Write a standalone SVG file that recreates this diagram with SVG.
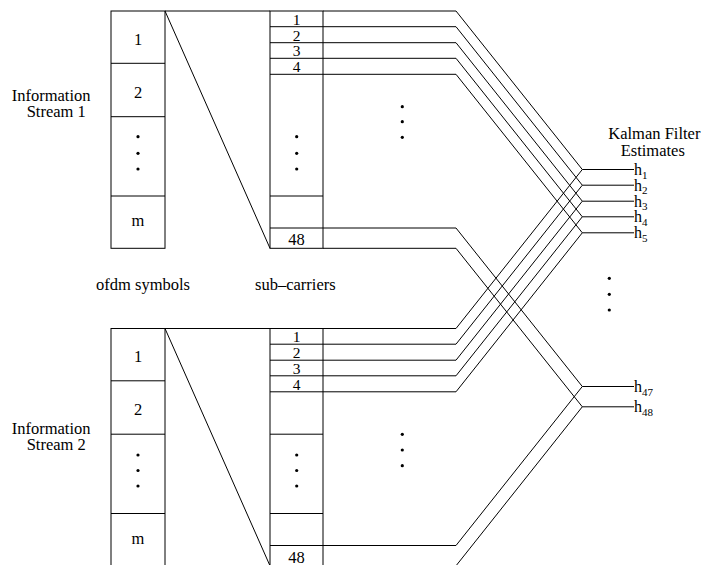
<svg xmlns="http://www.w3.org/2000/svg" width="703" height="565" viewBox="0 0 703 565" font-family="'Liberation Serif', 'Times New Roman', serif">
<style>
  .box{fill:none;stroke:#000;stroke-width:1}
  .ln{fill:none;stroke:#000;stroke-width:1}
  text{font-family:"Liberation Serif","Times New Roman",serif;font-size:16.5px;fill:#000}
  .c{text-anchor:middle}
  .sc{font-size:15.5px}
  .h{font-size:16px}
  .sub{font-size:11px}
  .dot{fill:#000}
</style>
<rect width="703" height="565" fill="#fff"/>

<g id="stream1-label">
  <text x="11.7" y="101">Information</text>
  <text x="26.7" y="116.7">Stream 1</text>
</g>
<g id="stream2-label">
  <text x="11.7" y="434">Information</text>
  <text x="26.7" y="450">Stream 2</text>
</g>
<g id="axis-labels">
  <text x="96" y="290">ofdm symbols</text>
  <text x="255" y="290">sub–carriers</text>
</g>
<g id="kalman-label">
  <text x="608.3" y="139.3">Kalman Filter</text>
  <text x="620.7" y="156">Estimates</text>
</g>

<g id="stream1-symbols">
  <rect class="box" x="111" y="11" width="54" height="237.3"/>
  <path class="ln" d="M111,63.3H165M111,116.7H165M111,196H165"/>
  <text class="c" x="138" y="44.5">1</text>
  <text class="c" x="138" y="97.5">2</text>
  <circle class="dot" cx="138" cy="136.7" r="1.6"/>
  <circle class="dot" cx="138" cy="153.3" r="1.6"/>
  <circle class="dot" cx="138" cy="169" r="1.6"/>
  <text class="c" x="138" y="226">m</text>
</g>

<g id="stream1-subcarriers">
  <rect class="box" x="270" y="11" width="53" height="237.3"/>
  <path class="ln" d="M270,26.7H323M270,42.7H323M270,58.3H323M270,74.3H323M270,196H323M270,228H323"/>
  <text class="c sc" x="296.5" y="24.7">1</text>
  <text class="c sc" x="296.5" y="40.7">2</text>
  <text class="c sc" x="296.5" y="56.3">3</text>
  <text class="c sc" x="296.5" y="72.3">4</text>
  <circle class="dot" cx="296.7" cy="136.7" r="1.6"/>
  <circle class="dot" cx="296.7" cy="153.3" r="1.6"/>
  <circle class="dot" cx="296.7" cy="169" r="1.6"/>
  <text class="c" x="296.5" y="245">48</text>
</g>

<g id="stream2-symbols">
  <rect class="box" x="111" y="328.5" width="54" height="237.3"/>
  <path class="ln" d="M111,380.8H165M111,434.2H165M111,513.5H165"/>
  <text class="c" x="138" y="362">1</text>
  <text class="c" x="138" y="414.5">2</text>
  <circle class="dot" cx="138" cy="455" r="1.6"/>
  <circle class="dot" cx="138" cy="470.5" r="1.6"/>
  <circle class="dot" cx="138" cy="486" r="1.6"/>
  <text class="c" x="138" y="544">m</text>
</g>

<g id="stream2-subcarriers">
  <rect class="box" x="270" y="328.5" width="53" height="237.3"/>
  <path class="ln" d="M270,344.2H323M270,360.2H323M270,375.8H323M270,391.8H323M270,434.2H323M270,513.5H323M270,545.5H323"/>
  <text class="c sc" x="296.5" y="342.2">1</text>
  <text class="c sc" x="296.5" y="358.2">2</text>
  <text class="c sc" x="296.5" y="373.8">3</text>
  <text class="c sc" x="296.5" y="389.8">4</text>
  <circle class="dot" cx="296.7" cy="455" r="1.6"/>
  <circle class="dot" cx="296.7" cy="470.5" r="1.6"/>
  <circle class="dot" cx="296.7" cy="486" r="1.6"/>
  <text class="c" x="296.5" y="562.5">48</text>
</g>

<g id="middle-dots">
  <circle class="dot" cx="402.3" cy="106.7" r="1.6"/>
  <circle class="dot" cx="402.3" cy="121.7" r="1.6"/>
  <circle class="dot" cx="402.3" cy="137.3" r="1.6"/>
  <circle class="dot" cx="402.3" cy="434.3" r="1.6"/>
  <circle class="dot" cx="402.3" cy="450" r="1.6"/>
  <circle class="dot" cx="402.3" cy="465.7" r="1.6"/>
</g>

<g id="estimates">
  <text class="h" x="634" y="175">h<tspan class="sub" dy="3.5">1</tspan></text>
  <text class="h" x="634" y="190.7">h<tspan class="sub" dy="3.5">2</tspan></text>
  <text class="h" x="634" y="206.7">h<tspan class="sub" dy="3.5">3</tspan></text>
  <text class="h" x="634" y="222.3">h<tspan class="sub" dy="3.5">4</tspan></text>
  <text class="h" x="634" y="238.3">h<tspan class="sub" dy="3.5">5</tspan></text>
  <circle class="dot" cx="609.3" cy="278.3" r="1.6"/>
  <circle class="dot" cx="609.3" cy="294.3" r="1.6"/>
  <circle class="dot" cx="609.3" cy="310" r="1.6"/>
  <text class="h" x="634" y="392">h<tspan class="sub" dy="3.5">47</tspan></text>
  <text class="h" x="634" y="412.3">h<tspan class="sub" dy="3.5">48</tspan></text>
</g>

<g id="connectors">
  <path class="ln" d="M165,11H270M165,11L270,248.3"/>
  <path class="ln" d="M165,328.5H270M165,328.5L270,565.8"/>
  <path class="ln" d="M323,11H456L582.3,169.5"/>
  <path class="ln" d="M323,26.7H456L582.3,185.2"/>
  <path class="ln" d="M323,42.7H456L582.3,201.2"/>
  <path class="ln" d="M323,58.3H456L582.3,216.8"/>
  <path class="ln" d="M323,74.3H456L582.3,232.8"/>
  <path class="ln" d="M323,228H456L582.3,386.5"/>
  <path class="ln" d="M323,248.3H456L582.3,406.8"/>
  <path class="ln" d="M323,328.5H456L582.3,169.5"/>
  <path class="ln" d="M323,344.2H456L582.3,185.2"/>
  <path class="ln" d="M323,360.2H456L582.3,201.2"/>
  <path class="ln" d="M323,375.8H456L582.3,216.8"/>
  <path class="ln" d="M323,391.8H456L582.3,232.8"/>
  <path class="ln" d="M323,545.5H456L582.3,386.5"/>
  <path class="ln" d="M323,565.8H456L582.3,406.8"/>
  <path class="ln" d="M582.3,169.5H634M582.3,185.2H634M582.3,201.2H634M582.3,216.8H634M582.3,232.8H634M582.3,386.5H634M582.3,406.8H634"/>
</g>
</svg>
